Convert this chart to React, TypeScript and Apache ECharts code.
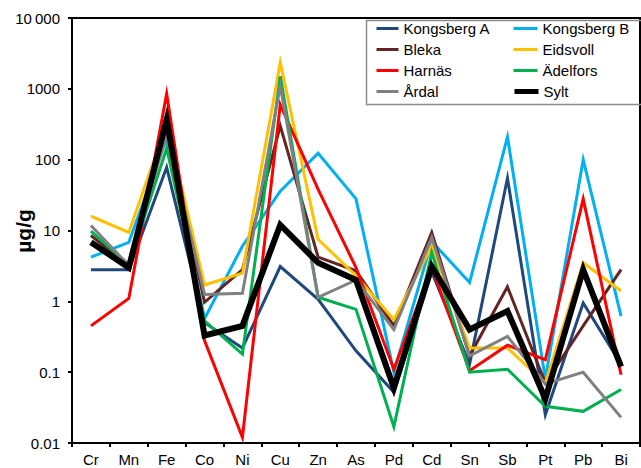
import React, { useEffect, useRef } from "react";
import * as echarts from "echarts";

const categories = ["Cr", "Mn", "Fe", "Co", "Ni", "Cu", "Zn", "As", "Pd", "Cd", "Sn", "Sb", "Pt", "Pb", "Bi"];
const yTickLabels = ["0.01", "0.1", "1", "10", "100", "1000", "10\u2009000"];

const seriesNames = ["Kongsberg A", "Kongsberg B", "Bleka", "Eidsvoll", "Harnäs", "Ädelfors", "Årdal", "Sylt"];
const seriesColors = ["#1F497D", "#00B0F0", "#632523", "#FFC000", "#FF0000", "#00B050", "#808080", "#000000"];

const kongsbergA = [2.8, 2.8, 78, 0.5, 0.22, 3.1, 1.07, 0.2, 0.052, 2.6, 0.13, 55, 0.025, 0.95, 0.13];
const kongsbergB = [4.2, 6.8, 200, 0.57, 6, 36, 123, 28, 0.1, 7, 1.85, 210, 0.08, 100, 0.62];
const bleka = [8.5, 3.2, 280, 0.97, 2.8, 300, 4.2, 2.7, 0.45, 9.4, 0.17, 1.6, 0.07, 0.45, 2.8];
const eidsvoll = [16, 9.4, 320, 1.7, 2.5, 2350, 7.5, 2.3, 0.55, 6, 0.22, 0.22, 0.07, 3.5, 1.4];
const harnas = [0.45, 1.1, 850, 0.28, 0.012, 600, 38, 3.0, 0.11, 3.0, 0.105, 0.24, 0.15, 28, 0.092];
const adelfors = [9.8, 3.3, 145, 0.53, 0.18, 1500, 1.14, 0.77, 0.017, 4.9, 0.1, 0.11, 0.033, 0.028, 0.057];
const ardal = [11.8, 3.2, 230, 1.25, 1.3, 1100, 1.14, 2.0, 0.4, 8, 0.17, 0.32, 0.068, 0.1, 0.023];
const sylt = [6.8, 3.0, 370, 0.33, 0.45, 12, 3.5, 2.0, 0.06, 3.1, 0.4, 0.73, 0.042, 2.8, 0.12];

const seriesData = [kongsbergA, kongsbergB, bleka, eidsvoll, harnas, adelfors, ardal, sylt];

const FONT = "'Liberation Sans', Arial, Helvetica, sans-serif";

export default function App() {
  const ref = useRef<HTMLDivElement>(null);

  useEffect(() => {
    if (!ref.current) return;
    const chart = echarts.init(ref.current, null, { renderer: "svg" });

    const series = seriesNames.map((name, i) => ({
      name,
      type: "line",
      data: seriesData[i],
      symbol: "none",
      showSymbol: false,
      z: 2 + i,
      lineStyle: {
        color: seriesColors[i],
        width: name === "Sylt" ? 6 : 3,
        join: "miter",
        miterLimit: 6,
      },
      itemStyle: { color: seriesColors[i] },
    }));

    const legendCommon = {
      orient: "vertical",
      padding: 0,
      itemWidth: 24,
      itemHeight: 14,
      itemGap: 6,
      top: 21,
      z: 20,
      itemStyle: { opacity: 0 },
      lineStyle: { width: 3 },
      textStyle: { color: "#000", fontSize: 15, fontFamily: FONT },
    };

    chart.setOption({
      animation: false,
      textStyle: { fontFamily: FONT },
      grid: {
        left: 72,
        right: 1,
        top: 18,
        bottom: 25,
        show: true,
        borderColor: "#000",
        borderWidth: 2,
        containLabel: false,
      },
      xAxis: {
        type: "category",
        data: categories,
        boundaryGap: true,
        axisLine: { show: true, lineStyle: { color: "#000", width: 2 } },
        axisTick: { show: true, length: 4, lineStyle: { color: "#000", width: 2 } },
        axisLabel: { color: "#000", fontSize: 15, margin: 9, fontFamily: FONT, interval: 0 },
        splitLine: { show: false },
      },
      yAxis: {
        type: "log",
        logBase: 10,
        min: 0.01,
        max: 10000,
        interval: 1,
        axisLine: { show: true, lineStyle: { color: "#000", width: 2 } },
        axisTick: { show: true, length: 4, lineStyle: { color: "#000", width: 2 } },
        axisLabel: {
          color: "#000",
          fontSize: 15,
          margin: 12,
          fontFamily: FONT,
          formatter: (v: number) => {
            const k = Math.round(Math.log10(v)) + 2;
            return yTickLabels[k] ?? String(v);
          },
        },
        splitLine: { show: false },
        minorTick: { show: false },
        minorSplitLine: { show: false },
      },
      legend: [
        { ...legendCommon, left: 375, itemWidth: 22, data: ["Kongsberg A", "Bleka", "Harnäs", "Årdal"] },
        { ...legendCommon, left: 512, data: ["Kongsberg B", "Eidsvoll", "Ädelfors"] },
        { ...legendCommon, left: 512, top: 84, lineStyle: { width: 5 }, data: ["Sylt"] },
      ],
      graphic: [
        {
          type: "rect",
          left: 364,
          top: 18,
          shape: { width: 276, height: 84 },
          style: { fill: null, stroke: "#8c8c8c", lineWidth: 1.5 },
          z: 1,
        },
        {
          type: "text",
          x: 23,
          y: 231,
          rotation: Math.PI / 2,
          style: {
            text: "µg/g",
            fill: "#000",
            font: `bold 21px ${FONT}`,
            align: "center",
            verticalAlign: "middle",
          },
        },
      ],
      series,
    });

    return () => chart.dispose();
  }, []);

  return (
    <div
      ref={ref}
      style={{ position: "absolute", left: 0, top: 0, width: 641, height: 468, background: "#fff" }}
    />
  );
}
